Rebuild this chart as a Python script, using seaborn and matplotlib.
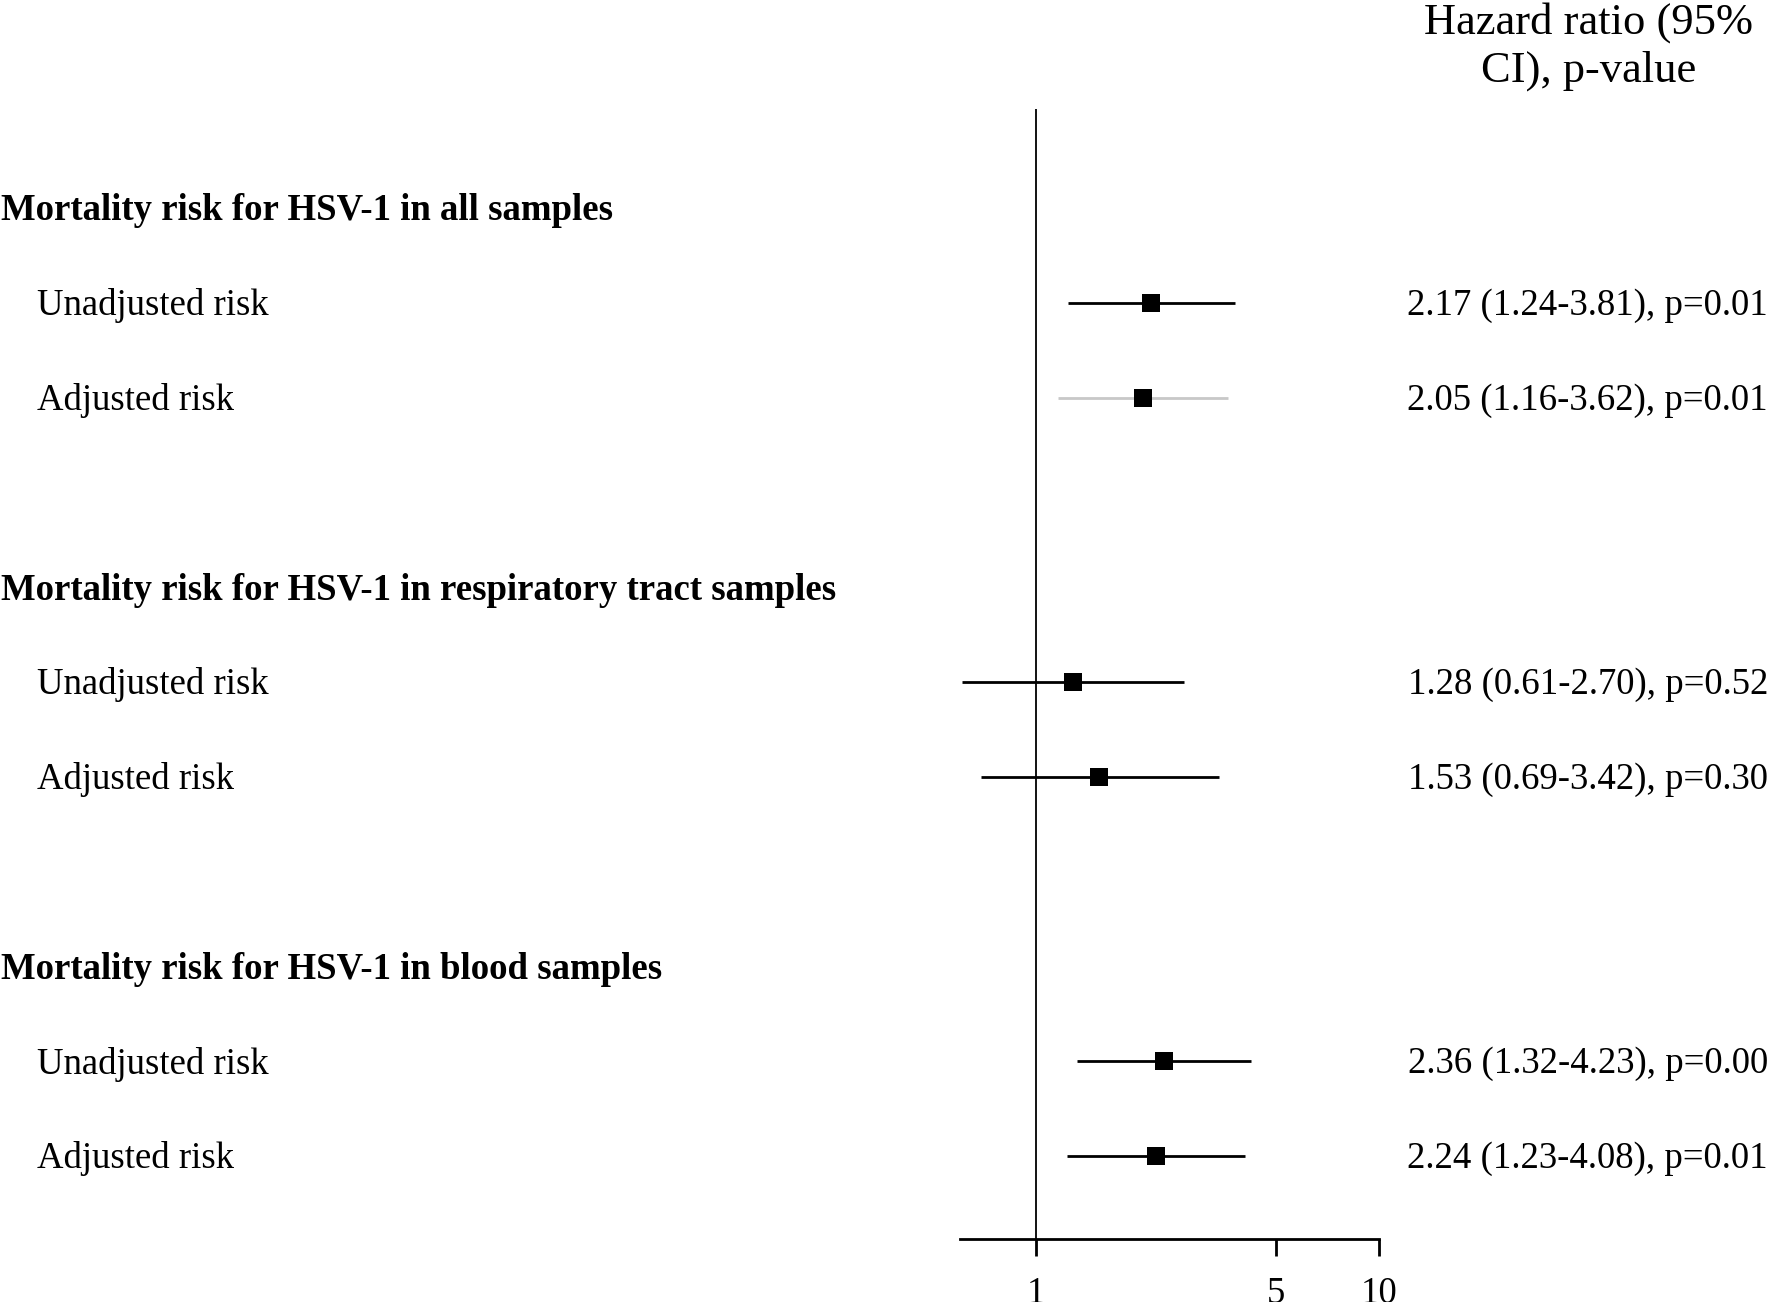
import numpy as np
import pandas as pd
import seaborn as sns
import matplotlib.pyplot as plt
import matplotlib.transforms as mtransforms

# forest plot: HSV-1 mortality hazard ratios
sns.set_style("white", {"text.color": "black", "axes.edgecolor": "black",
                        "xtick.color": "black", "ytick.color": "black"})
plt.rcParams['font.family'] = ['Liberation Serif', 'DejaVu Serif']

group_titles = ["Mortality risk for HSV-1 in all samples",
                "Mortality risk for HSV-1 in respiratory tract samples",
                "Mortality risk for HSV-1 in blood samples"]
row_labels = ["Unadjusted risk", "Adjusted risk"] * 3
hr = [2.17, 2.05, 1.28, 1.53, 2.36, 2.24]
ci_low = [1.24, 1.16, 0.61, 0.69, 1.32, 1.23]
ci_high = [3.81, 3.62, 2.70, 3.42, 4.23, 4.08]
p_values = ["0.01", "0.01", "0.52", "0.30", "0.00", "0.01"]
x_ticks = [1, 5, 10]

# row positions: title then two rows, one blank row between groups
title_rows = [0, 4, 8]
data_rows = [1, 2, 5, 6, 9, 10]
ci_colors = ["black", "#c8c8c8", "black", "black", "black", "black"]

df = pd.DataFrame({"label": row_labels, "hr": hr, "lo": ci_low, "hi": ci_high,
                   "p": p_values, "row": data_rows, "color": ci_colors})

W, H = 1770, 1302
fig = plt.figure(figsize=(W / 100, H / 100), dpi=100)
ax = fig.add_axes([960 / W, 1 - 1239 / H, (1379 - 960) / W, (1239 - 109) / H])

ax.set_xscale("log")
ax.set_xlim(0.6, 10)
ax.set_ylim(10.875, -1.044)

ax.axvline(1, color="black", lw=1.3, zorder=1)
for _, r in df.iterrows():
    ax.hlines(r["row"], r["lo"], r["hi"], color=r["color"], lw=2.0, zorder=2)
sns.scatterplot(data=df, x="hr", y="row", marker="s", s=150, color="black",
                edgecolor="black", linewidth=0, ax=ax, zorder=3, legend=False)

for side in ["top", "right", "left"]:
    ax.spines[side].set_visible(False)
ax.spines["bottom"].set_linewidth(2)
ax.spines["bottom"].set_color("black")
ax.set_yticks([])
ax.set_xticks(x_ticks)
ax.set_xticklabels([str(t) for t in x_ticks])
ax.xaxis.set_minor_locator(plt.NullLocator())
ax.tick_params(axis="x", which="major", direction="out", length=12, width=2,
               pad=15, labelsize=26.5, bottom=True, color="black",
               labelcolor="black")
ax.set_xlabel("")
ax.set_ylabel("")

fs = 26.5
dy = 0.03  # small nudge so text sits level with the marks
trans = mtransforms.blended_transform_factory(fig.transFigure, ax.transData)
for t, r in zip(group_titles, title_rows):
    ax.text(1 / W, r + dy, t, transform=trans, fontsize=fs, fontweight="bold",
            ha="left", va="center", color="black")
for _, r in df.iterrows():
    ax.text(37 / W, r["row"] + dy, r["label"], transform=trans, fontsize=fs,
            ha="left", va="center", color="black")
    txt = "{:.2f} ({:.2f}-{:.2f}), p={}".format(r["hr"], r["lo"], r["hi"], r["p"])
    ax.text(1768 / W, r["row"] + dy, txt, transform=trans, fontsize=fs,
            ha="right", va="center", color="black")

fig.text(1589 / W, 1 - 2 / H, "Hazard ratio (95%\nCI), p-value", fontsize=32,
         ha="center", va="top", multialignment="center", linespacing=1.24,
         color="black")

fig.savefig("out.png", dpi=100)
